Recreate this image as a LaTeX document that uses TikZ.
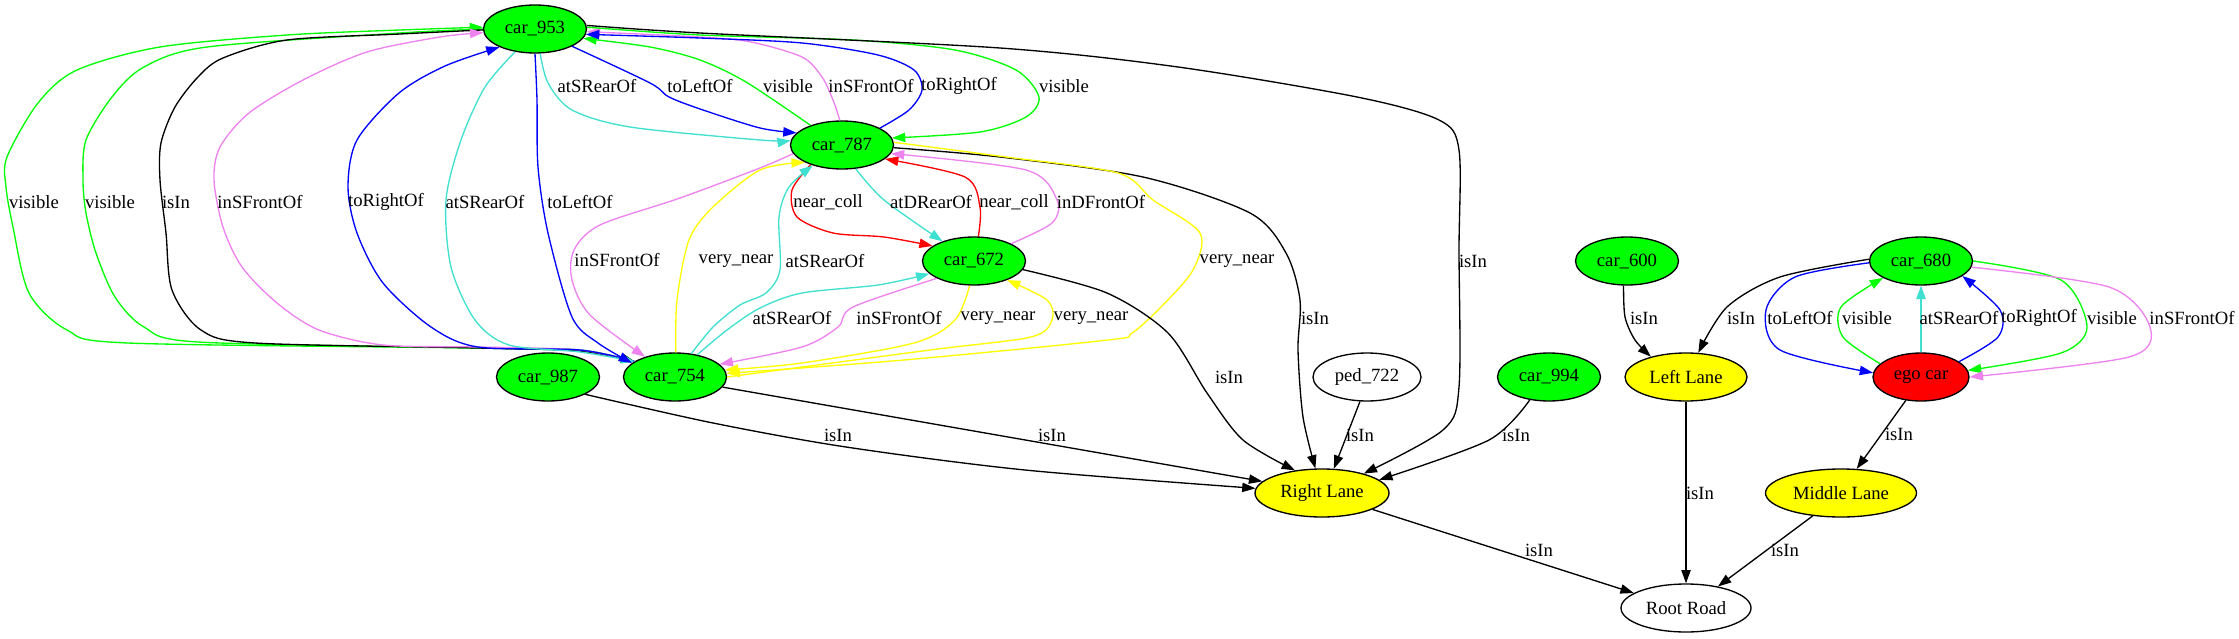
\documentclass[tikz,border=0pt]{standalone}
\usepackage{fontspec}
\setmainfont{Liberation Serif}
\usetikzlibrary{shapes.geometric,arrows.meta}
\definecolor{gvgreen}{HTML}{00FF00}
\definecolor{gvblue}{HTML}{0000FF}
\definecolor{gvviolet}{HTML}{EE82EE}
\definecolor{gvturq}{HTML}{40E0D0}
\definecolor{gvyellow}{HTML}{FFFF00}
\definecolor{gvred}{HTML}{FF0000}
\begin{document}
\begin{tikzpicture}[x=0.75pt,y=-0.75pt,
  gn/.style={ellipse,draw=black,line width=1pt,inner sep=0pt,minimum width=77.25pt,minimum height=36pt,font=\fontsize{14}{16}\selectfont},
  carn/.style={gn,fill=gvgreen},
  lanen/.style={gn,fill=gvyellow},
  ed/.style={line width=1pt,-{Triangle[length=10pt,width=7pt]}},
  lab/.style={inner sep=0pt,font=\fontsize{14}{16}\selectfont},
]
\useasboundingbox (0,0) rectangle (2239,639);
% nodes
\node[carn] (c953) at (535,29) {car\_953};
\node[carn] (c787) at (842,145) {car\_787};
\node[carn] (c672) at (974,261) {car\_672};
\node[carn] (c754) at (675,377) {car\_754};
\node[carn] (c987) at (548,377) {car\_987};
\node[gn,fill=white,minimum width=81pt] (p722) at (1367,377) {ped\_722};
\node[carn] (c994) at (1549,377) {car\_994};
\node[carn] (c600) at (1627,261) {car\_600};
\node[carn] (c680) at (1921,261) {car\_680};
\node[lanen,minimum width=91.5pt] (LL) at (1686,377) {Left Lane};
\node[gn,fill=gvred,minimum width=72pt] (ego) at (1921,377) {ego car};
\node[lanen,minimum width=100.5pt] (RL) at (1322,493) {Right Lane};
\node[lanen,minimum width=113.25pt] (ML) at (1841,493) {Middle Lane};
\node[gn,fill=white,minimum width=97.5pt] (RR) at (1686,608) {Root Road};

% car953 <-> car754 (left bundle)
\draw[ed,gvgreen] plot[smooth] coordinates {(c754.159) (580,350) (478,348) (128,343) (67,330) (29,293) (13,227) (6,187) (7,157) (38,103) (77,70) (160,47) (287,35) (400,30) (c953.178)};
\draw[ed,gvgreen] plot[smooth] coordinates {(c953.180) (400,33) (207,47) (144,67) (112,97) (86,140) (83,180) (86,213) (96,253) (115,297) (144,327) (198,342) (478,348) (580,351) (c754.159)};
\draw[ed,black] plot[smooth] coordinates {(c953.181) (400,34) (287,40) (223,58) (198,77) (175,107) (161,143) (160,180) (166,233) (172,290) (201,330) (255,343) (478,348) (580,351) (c754.159)};
\draw[ed,gvviolet] plot[smooth] coordinates {(c754.159) (580,350) (478,347) (383,345) (319,330) (277,303) (242,267) (223,227) (214,180) (220,147) (249,113) (303,80) (367,52) (440,37) (c953.184)};
\draw[ed,gvblue] plot[smooth] coordinates {(c754.159) (580,350) (478,347) (431,327) (383,283) (357,233) (348,187) (357,140) (399,93) (445,66) (c953.207)};
\draw[ed,gvturq] plot[smooth] coordinates {(c953.229) (485,87) (461,140) (446,200) (451,267) (475,320) (509,345) (580,352) (c754.159)};
\draw[ed,gvblue] plot[smooth] coordinates {(c953.270) (537,100) (538,167) (548,233) (572,317) (598,343) (c754.162)};

% car953 <-> car787
\draw[ed,gvturq] plot[smooth] coordinates {(c953.282) (548,83) (572,110) (630,127) (760,140) (c787.175)};
\draw[ed,gvblue] plot[smooth] coordinates {(c953.335) (650,83) (669,97) (703,110) (760,128) (c787.165)};
\draw[ed,gvgreen] plot[smooth] coordinates {(c787.148) (746,82) (700,60) (650,47) (c953.349)};
\draw[ed,gvviolet] plot[smooth] coordinates {(c787.95) (833,100) (822,77) (802,57) (751,42) (700,37) (c953.357)};
\draw[ed,gvblue] plot[smooth] coordinates {(c787.24) (909,110) (922,90) (914,70) (878,55) (802,43) (700,38) (c953.354)};
\draw[ed,gvgreen] plot[smooth] coordinates {(c953.2) (700,35) (853,40) (955,50) (1016,70) (1039,97) (1026,117) (980,132) (c787.8)};
\draw[ed,black] plot[smooth] coordinates {(c953.4) (700,33) (1000,48) (1178,67) (1357,97) (1439,120) (1459,150) (1459,250) (1459,387) (1443,430) (RL.25)};

% car787 / car672 / car754
\draw[ed,black] plot[smooth] coordinates {(c787.357) (1000,157) (1143,177) (1250,213) (1286,253) (1300,300) (1298,350) (1303,417) (RL.105)};
\draw[ed,gvyellow] plot[smooth] coordinates {(c787.3) (1006,157) (1118,173) (1153,200) (1200,233) (1193,270) (1161,307) (1132,333) (1108,340) (904,360) (c754.4)};
\draw[ed,gvred] plot[smooth] coordinates {(c787.212) (792,190) (797,217) (833,233) (884,237) (c672.160)};
\draw[ed,gvturq] plot[smooth] coordinates {(c787.300) (884,200) (c672.148)};
\draw[ed,gvred] plot[smooth] coordinates {(c672.80) (980,207) (965,177) (c787.342)};
\draw[ed,gvviolet] plot[smooth] coordinates {(c672.25) (1052,223) (1057,200) (1026,170) (c787.350)};
\draw[ed,gvviolet] plot[smooth] coordinates {(c787.190) (760,168) (680,198) (600,225) (574,250) (572,280) (590,315) (c754.146)};
\draw[ed,gvyellow] plot[smooth] coordinates {(c754.88) (677,300) (689,240) (713,207) (760,170) (c787.205)};
\draw[ed,gvturq] plot[smooth] coordinates {(c754.55) (713,327) (740,305) (766,293) (780,270) (779,217) (789,187) (c787.215)};
\draw[ed,gvturq] plot[smooth] coordinates {(c754.45) (727,330) (760,308) (802,293) (878,285) (c672.196)};
\draw[ed,gvviolet] plot[smooth] coordinates {(c672.205) (853,307) (838,327) (802,347) (c754.16)};
\draw[ed,gvyellow] plot[smooth] coordinates {(c672.260) (955,320) (914,343) (802,363) (c754.8)};
\draw[ed,gvyellow] plot[smooth] coordinates {(c754.0) (930,350) (1031,337) (1052,320) (1047,300) (c672.330)};
\draw[ed,black] plot[smooth] coordinates {(c672.350) (1107,293) (1168,333) (1207,393) (1243,440) (RL.140)};

% lower part
\draw[ed,black] plot[smooth] coordinates {(c987.335) (713,423) (846,447) (1025,470) (RL.176)};
\draw[ed,black] (c754.348) -- (RL.169);
\draw[ed,black] (p722.254) -- (RL.64);
\draw[ed,black] plot[smooth] coordinates {(c994.230) (1489,440) (RL.13)};
\draw[ed,black] (RL.342) -- (RR.164);
\draw[ed,black] plot[smooth] coordinates {(c600.262) (1625,317) (1635,340) (LL.150)};
\draw[ed,black] plot[smooth] coordinates {(c680.178) (1780,277) (1727,307) (LL.63)};
\draw[ed,gvblue] plot[smooth] coordinates {(c680.182) (1795,277) (1766,310) (1780,350) (ego.175)};
\draw[ed,gvgreen] plot[smooth] coordinates {(ego.162) (1843,337) (1841,307) (c680.204)};
\draw[ed,gvturq] (ego.90) -- (c680.270);
\draw[ed,gvblue] plot[smooth] coordinates {(ego.22) (1998,337) (2000,310) (c680.340)};
\draw[ed,gvgreen] plot[smooth] coordinates {(c680.0) (2061,280) (2087,327) (2061,353) (ego.8)};
\draw[ed,gvviolet] plot[smooth] coordinates {(c680.353) (2109,287) (2150,327) (2129,357) (ego.0)};
\draw[ed,black] (ego.237) -- (ML.57);
\draw[ed,black] (LL.270) -- (RR.90);
\draw[ed,black] (ML.219) -- (RR.34);

% labels
\node[lab] (l1) at (34,202) {visible};
\node[lab] (l2) at (110,202) {visible};
\node[lab] (l3) at (176,202) {isIn};
\node[lab] (l4) at (260,202) {inSFrontOf};
\node[lab] (l5) at (386,202) {toRightOf};
\node[lab] (l6) at (485,202) {atSRearOf};
\node[lab] (l7) at (580,202) {toLeftOf};
\node[lab] (l8) at (597,86) {atSRearOf};
\node[lab] (l9) at (700,86) {toLeftOf};
\node[lab] (l10) at (788,86) {visible};
\node[lab] (l11) at (871,86) {inSFrontOf};
\node[lab] (l12) at (959,86) {toRightOf};
\node[lab] (l13) at (1064,86) {visible};
\node[lab] (l14) at (617,260) {inSFrontOf};
\node[lab] (l15) at (736,261) {very\_near};
\node[lab] (l16) at (825,261) {atSRearOf};
\node[lab] (l17) at (828,202) {near\_coll};
\node[lab] (l18) at (931,202) {atDRearOf};
\node[lab] (l19) at (1014,202) {near\_coll};
\node[lab] (l20) at (1101,202) {inDFrontOf};
\node[lab] (l21) at (1237,261) {very\_near};
\node[lab] (l22) at (1473,261) {isIn};
\node[lab] (l23) at (792,318) {atSRearOf};
\node[lab] (l24) at (899,318) {inSFrontOf};
\node[lab] (l25) at (998,318) {very\_near};
\node[lab] (l26) at (1091,318) {very\_near};
\node[lab] (l27) at (1315,318) {isIn};
\node[lab] (l28) at (1229,377) {isIn};
\node[lab] (l29) at (838,435) {isIn};
\node[lab] (l30) at (1052,435) {isIn};
\node[lab] (l31) at (1360,435) {isIn};
\node[lab] (l32) at (1516,435) {isIn};
\node[lab] (l33) at (1539,550) {isIn};
\node[lab] (l34) at (1700,493) {isIn};
\node[lab] (l35) at (1785,550) {isIn};
\node[lab] (l36) at (1644,318) {isIn};
\node[lab] (l37) at (1741,318) {isIn};
\node[lab] (l38) at (1800,318) {toLeftOf};
\node[lab] (l39) at (1867,318) {visible};
\node[lab] (l40) at (1959,318) {atSRearOf};
\node[lab] (l41) at (2039,318) {toRightOf};
\node[lab] (l42) at (2112,318) {visible};
\node[lab] (l43) at (2192,318) {inSFrontOf};
\node[lab] (l44) at (1899,434) {isIn};
\end{tikzpicture}
\end{document}
